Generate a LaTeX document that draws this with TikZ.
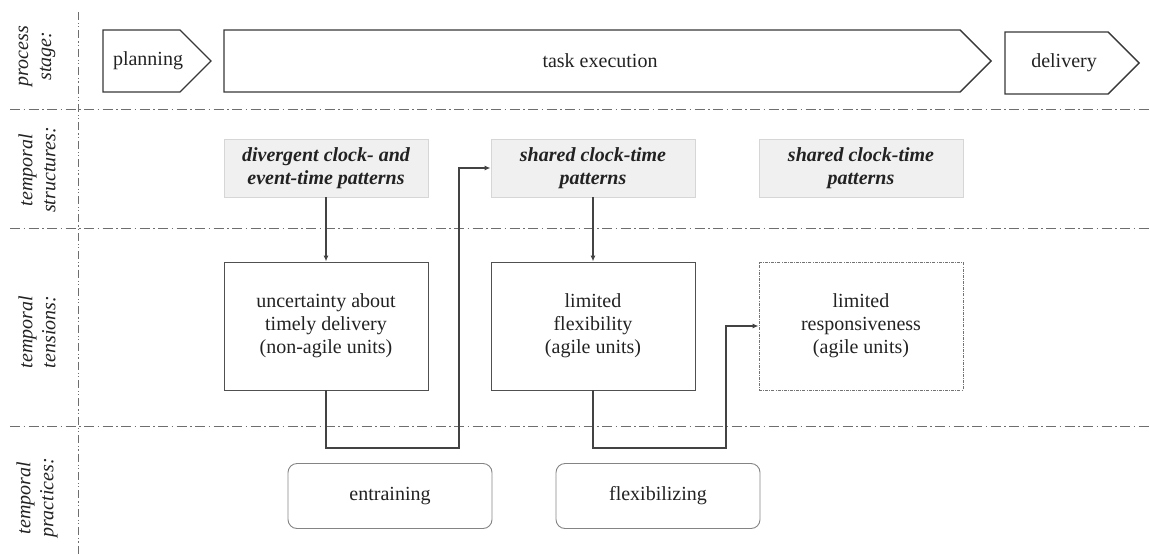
\documentclass[tikz,border=0pt]{standalone}
\usepackage{fontspec}
\setmainfont{Liberation Serif}
\usetikzlibrary{arrows.meta}
\definecolor{ink}{HTML}{222222}
\definecolor{rule}{HTML}{6E6E6E}
\definecolor{edge}{HTML}{505050}
\definecolor{structfill}{HTML}{F0F0F0}
\definecolor{structline}{HTML}{D6D6D6}
\begin{document}
\begin{tikzpicture}[x=1pt,y=-1pt,
  every node/.style={text=ink,font=\fontsize{20}{23}\selectfont},
  divider/.style={draw=rule,line width=0.9pt,dash pattern=on 10pt off 3.5pt on 1.5pt off 3.5pt},
  vdivider/.style={draw=rule,line width=0.9pt,dash pattern=on 8pt off 3pt on 1.2pt off 2pt on 1.2pt off 3pt},
  rowlabel/.style={rotate=90,align=center,font=\fontsize{20}{23}\selectfont\itshape},
  stage/.style={draw=ink!90,line width=1.4pt,line join=miter},
  structbox/.style={draw=structline,fill=structfill,line width=0.9pt,minimum width=204pt,minimum height=58pt,align=center,inner sep=0pt,font=\fontsize{20}{23}\selectfont\bfseries\itshape},
  tensionbox/.style={draw=edge,line width=0.9pt,minimum width=204pt,minimum height=128pt,align=center,inner sep=0pt},
  openbox/.style={tensionbox,draw=edge!80,dash pattern=on 3pt off 1.2pt on 0.8pt off 1.2pt},
  practicebox/.style={draw=edge!70,line width=0.9pt,rounded corners=9pt,minimum width=204pt,minimum height=65pt,align=center,inner sep=0pt},
  link/.style={draw=ink!85,line width=1.3pt,-{Latex[length=6pt,width=5pt]}}
]
\useasboundingbox (0,0) rectangle (1150,554);

% swimlane dividers
\draw[divider] (10,109) -- (1150,109);
\draw[divider] (10,228) -- (1150,228);
\draw[divider] (10,426) -- (1150,426);
\draw[vdivider] (78,12) -- (78,554);

% lane labels
\node[rowlabel] (lblstage) at (37,56) {process\\stage:};
\node[rowlabel] (lblstruct) at (37,170) {temporal\\structures:};
\node[rowlabel] (lbltension) at (37,332) {temporal\\tensions:};
\node[rowlabel] (lblpractice) at (37,498) {temporal\\practices:};

% process stages (chevrons)
\draw[stage] (103,30) -- (180,30) -- (211,61) -- (180,92) -- (103,92) -- cycle;
\node (planning) at (148,61) {planning};
\draw[stage] (224,30) -- (960,30) -- (991,61) -- (960,92) -- (224,92) -- cycle;
\node (execution) at (600,61) {task execution};
\draw[stage] (1005,32) -- (1108,32) -- (1139,63) -- (1108,94) -- (1005,94) -- cycle;
\node (delivery) at (1064,63) {delivery};

% temporal structures
\node[structbox] (divergent) at (326,168) {divergent clock- and\\event-time patterns};
\node[structbox] (sharedA) at (593,168) {shared clock-time\\patterns};
\node[structbox] (sharedB) at (861,168) {shared clock-time\\patterns};

% temporal tensions
\node[tensionbox] (uncertainty) at (326,326) {uncertainty about\\timely delivery\\(non-agile units)};
\node[tensionbox] (flexibility) at (593,326) {limited\\flexibility\\(agile units)};
\node[openbox] (responsiveness) at (861,326) {limited\\responsiveness\\(agile units)};

% temporal practices
\node[practicebox] (entraining) at (390,496) {entraining};
\node[practicebox] (flexibilizing) at (658,496) {flexibilizing};

% connectors
\draw[link] (divergent.south) -- (uncertainty.north);
\draw[link] (sharedA.south) -- (flexibility.north);
\coordinate (turnA) at (459,448);
\coordinate (turnB) at (726,448);
\draw[link] (uncertainty.south) |- (turnA) |- (sharedA.west);
\draw[link] (flexibility.south) |- (turnB) |- (responsiveness.west);
\end{tikzpicture}
\end{document}
